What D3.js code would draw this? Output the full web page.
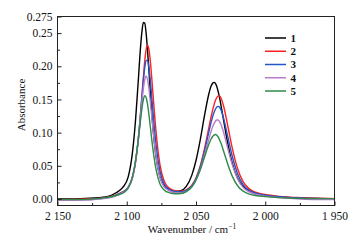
<!DOCTYPE html>
<html><head><meta charset="utf-8">
<script src="https://cdn.jsdelivr.net/npm/d3@7"></script>
<style>body{margin:0;background:#fff}svg{display:block}svg text{font-family:"Liberation Serif","Times New Roman",serif !important}</style>
</head><body><svg id="c" width="360" height="246" font-family="Liberation Serif"></svg>
<script>
const wavenumbers=[2150,2130,2115,2108,2103,2099,2096,2094,2092,2090,2089,2088,2087,2086,2085,2084,2083,2081,2079,2076,2073,2069,2065,2061,2057,2053,2050,2047,2044,2041,2039,2038,2037,2036,2035,2034,2033,2032,2030,2027,2024,2020,2016,2012,2007,2000,1990,1975,1960,1950];
const series1=[0.000,0.001,0.003,0.009,0.017,0.033,0.068,0.110,0.168,0.230,0.253,0.266,0.265,0.2495,0.224,0.194,0.162,0.1056,0.0656,0.0332,0.0205,0.0145,0.0115,0.0125,0.019,0.036,0.058,0.0885,0.124,0.156,0.1705,0.1745,0.1758,0.1742,0.1695,0.162,0.1526,0.1416,0.1177,0.0831,0.0555,0.0315,0.0191,0.0129,0.009,0.005,0.003,0.0015,0.0008,0.0005];
const series2=[-0.001,0.000,0.002,0.006,0.0107,0.0176,0.031,0.0503,0.0825,0.129,0.1563,0.1836,0.208,0.2252,0.2316,0.2253,0.2082,0.1567,0.1048,0.0514,0.027,0.0159,0.0126,0.0118,0.0138,0.0207,0.0316,0.0495,0.0744,0.1046,0.1247,0.1339,0.1418,0.1483,0.1527,0.1554,0.1553,0.1522,0.1393,0.1096,0.0785,0.0459,0.0261,0.016,0.0102,0.0067,0.004,0.002,0.001,0.0005];
const series3=[-0.0015,-0.001,0.0015,0.0055,0.0103,0.0174,0.032,0.0522,0.0844,0.1295,0.1546,0.1785,0.1979,0.2089,0.209,0.198,0.1788,0.13,0.0851,0.0418,0.0226,0.0139,0.0112,0.0107,0.013,0.0198,0.0305,0.0475,0.071,0.0984,0.1161,0.1238,0.1304,0.1353,0.1385,0.1395,0.1383,0.1345,0.121,0.0933,0.0659,0.0382,0.0218,0.0135,0.0088,0.0058,0.0035,0.0015,0.0005,0.000];
const series4=[-0.002,-0.0015,0.001,0.0045,0.0096,0.0166,0.0315,0.0517,0.0833,0.125,0.1468,0.1664,0.1801,0.1852,0.1802,0.1665,0.1471,0.1037,0.0665,0.0324,0.0181,0.0118,0.0095,0.0094,0.0116,0.0183,0.0283,0.0439,0.0646,0.0881,0.1026,0.1088,0.1136,0.1171,0.1191,0.119,0.1166,0.1125,0.0998,0.0757,0.0529,0.0304,0.0175,0.011,0.0072,0.0043,0.002,0.000,-0.001,-0.001];
const series5=[-0.001,-0.0005,0.002,0.0053,0.0087,0.0163,0.0324,0.0531,0.0835,0.12,0.137,0.1496,0.1557,0.1531,0.1428,0.1272,0.1092,0.0737,0.0462,0.0227,0.0137,0.0093,0.008,0.0083,0.0112,0.0185,0.0288,0.0436,0.0621,0.0809,0.0908,0.0942,0.0963,0.0971,0.0962,0.0935,0.0894,0.0842,0.0717,0.052,0.0352,0.02,0.0118,0.0077,0.0053,0.0036,0.002,0.001,0.0005,0.0005];
const seriesNames=["1","2","3","4","5"];
const seriesColors=["#000000","#ff2020","#2456c8","#b47ccb","#2e8a48"];
const xTicks=[2150,2100,2050,2000,1950];
const xTickLabels=["2 150","2 100","2 050","2 000","1 950"];
const xMinorTicks=[2125,2075,2025,1975];
const yTicks=[0,0.05,0.10,0.15,0.20,0.25,0.275];
const yTickLabels=["0.00","0.05","0.10","0.15","0.20","0.25","0.275"];
const yMinorTicks=[0.025,0.075,0.125,0.175,0.225];
const xTitle="Wavenumber / cm";
const yTitle="Absorbance";

const allSeries=[series1,series2,series3,series4,series5];
const L=57.5,R=334.5,T=16.5,B=205.5;
const FONT="Liberation Serif";
const svg=d3.select("#c");
const x=d3.scaleLinear().domain([2150,1950]).range([L,R]);
const y=d3.scaleLinear().domain([-0.0098,0.275]).range([B,T]);

const line=d3.line().x((d,i)=>x(wavenumbers[i])).y(d=>y(d)).curve(d3.curveMonotoneX);
const g=svg.append("g");
allSeries.forEach((s,k)=>{
  g.append("path").datum(s).attr("d",line).attr("fill","none")
   .attr("stroke",seriesColors[k]).attr("stroke-width",1.4).attr("stroke-linejoin","round");
});

// axes
const fmtX=d=>xTickLabels[xTicks.indexOf(d)];
const fmtY=d=>yTickLabels[yTicks.indexOf(d)];
svg.append("g").attr("transform",`translate(0,${B})`)
  .call(d3.axisBottom(x).tickValues(xTicks).tickFormat(fmtX).tickSizeInner(-4).tickSizeOuter(0).tickPadding(6));
svg.append("g").attr("transform",`translate(0,${B})`)
  .call(d3.axisBottom(x).tickValues(xMinorTicks).tickFormat("").tickSizeInner(-2.5).tickSizeOuter(0));
svg.append("g").attr("transform",`translate(${L},0)`)
  .call(d3.axisLeft(y).tickValues(yTicks).tickFormat(fmtY).tickSizeInner(-4).tickSizeOuter(0).tickPadding(5));
svg.append("g").attr("transform",`translate(${L},0)`)
  .call(d3.axisLeft(y).tickValues(yMinorTicks).tickFormat("").tickSizeInner(-2.5).tickSizeOuter(0));
svg.selectAll(".domain").remove();
svg.selectAll("g").attr("font-family",FONT);
svg.selectAll(".tick line").attr("stroke","#222");
svg.selectAll(".tick text").attr("font-size",11.5).attr("fill","#111").attr("font-family",FONT);

svg.append("rect").attr("x",L).attr("y",T).attr("width",R-L).attr("height",B-T)
  .attr("fill","none").attr("stroke","#222").attr("stroke-width",1);

// titles
const xt=svg.append("text").attr("x",192).attr("y",233).attr("text-anchor","middle")
  .attr("font-size",11).attr("fill","#111").attr("font-family",FONT);
xt.append("tspan").text(xTitle);
xt.append("tspan").attr("dy",-4).attr("font-size",7.5).text("−1");
svg.append("text").attr("transform","translate(25,105) rotate(-90)").attr("text-anchor","middle")
  .attr("font-size",11).attr("fill","#111").attr("font-family",FONT).text(yTitle);

// legend
const lg=svg.append("g");
seriesNames.forEach((n,k)=>{
  const yy=38+k*13.25;
  lg.append("line").attr("x1",265).attr("x2",286).attr("y1",yy).attr("y2",yy)
    .attr("stroke",seriesColors[k]).attr("stroke-width",1.5);
  lg.append("text").attr("x",290.5).attr("y",yy).attr("dy","0.35em").attr("font-size",11)
    .attr("font-weight","bold").attr("fill","#111").attr("font-family",FONT).text(n);
});
</script></body></html>
